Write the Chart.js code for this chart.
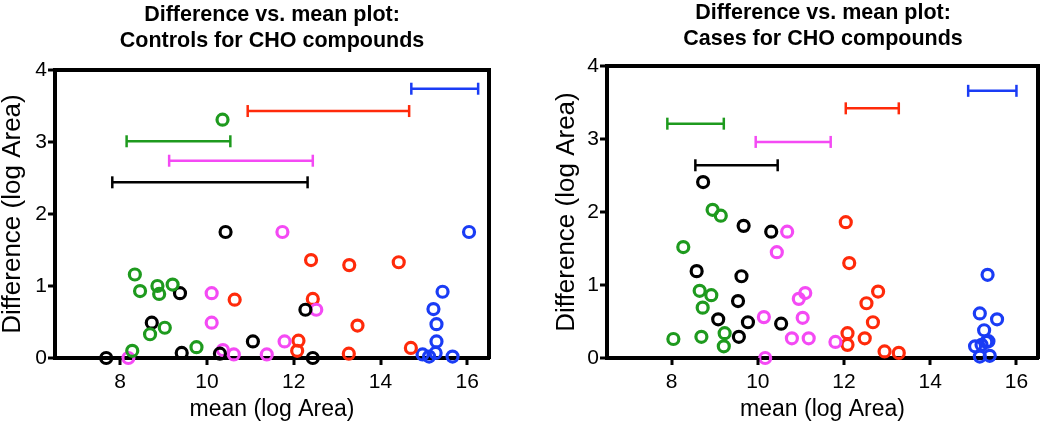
<!DOCTYPE html>
<html>
<head>
<meta charset="utf-8">
<script src="https://cdn.jsdelivr.net/npm/chart.js@4/dist/chart.umd.min.js"></script>
<style>
  html, body { margin: 0; padding: 0; background: #fff; overflow: hidden; width: 1050px; height: 423px; }
  .wrap { position: absolute; top: 0; height: 423px; }
  #wrapLeft { left: -10px; width: 564px; }
  #wrapRight { left: 540px; width: 566px; }
</style>
</head>
<body>
<div class="wrap" id="wrapLeft"><canvas id="controlsChart"></canvas></div>
<div class="wrap" id="wrapRight"><canvas id="casesChart"></canvas></div>
<script>
// ---- data ----
const xTickValues = [8, 10, 12, 14, 16];
const yTickValues = [0, 1, 2, 3, 4];

// Controls
const ctrlGreenX = [10.36, 8.34, 8.46, 8.86, 8.90, 9.21, 9.03, 8.69, 8.28, 9.76];
const ctrlGreenY = [3.31, 1.16, 0.93, 1.00, 0.89, 1.02, 0.42, 0.33, 0.10, 0.15];
const ctrlBlackX = [7.68, 8.73, 9.38, 9.42, 10.30, 10.43, 11.06, 12.27, 12.44];
const ctrlBlackY = [0.00, 0.49, 0.90, 0.07, 0.06, 1.75, 0.23, 0.67, 0.00];
const ctrlMagentaX = [8.19, 10.11, 10.11, 10.37, 10.62, 11.38, 11.74, 11.79, 12.52];
const ctrlMagentaY = [0.00, 0.90, 0.49, 0.11, 0.05, 0.05, 1.75, 0.23, 0.67];
const ctrlRedX = [10.64, 12.11, 12.08, 12.40, 12.44, 13.28, 13.27, 13.47, 14.42, 14.70];
const ctrlRedY = [0.81, 0.24, 0.10, 1.36, 0.82, 1.29, 0.06, 0.45, 1.33, 0.14];
const ctrlBlueX = [16.04, 15.43, 15.22, 15.29, 15.29, 14.97, 15.12, 15.27, 15.66];
const ctrlBlueY = [1.75, 0.92, 0.68, 0.47, 0.23, 0.05, 0.02, 0.07, 0.02];
// range bars: green, black, magenta, red, blue
const ctrlRangeLow = [8.15, 7.82, 9.13, 10.94, 14.71];
const ctrlRangeHigh = [10.54, 12.32, 12.44, 14.66, 16.25];
const ctrlRangeY = [3.01, 2.44, 2.74, 3.43, 3.74];

// Cases
const caseGreenX = [8.04, 8.27, 8.95, 9.14, 8.65, 8.92, 8.72, 8.69, 9.23, 9.21];
const caseGreenY = [0.26, 1.52, 2.03, 1.95, 0.92, 0.86, 0.69, 0.29, 0.34, 0.16];
const caseBlackX = [8.73, 9.67, 10.31, 8.58, 9.62, 9.54, 9.08, 9.77, 10.54, 9.56];
const caseBlackY = [2.41, 1.81, 1.73, 1.19, 1.12, 0.78, 0.53, 0.49, 0.47, 0.29];
const caseMagentaX = [10.17, 10.14, 10.68, 10.44, 10.95, 11.10, 11.04, 10.79, 11.18, 11.80];
const caseMagentaY = [0.00, 0.56, 1.73, 1.45, 0.81, 0.89, 0.55, 0.27, 0.27, 0.22];
const caseRedX = [12.04, 12.12, 12.79, 12.52, 12.67, 12.08, 12.08, 12.48, 12.94, 13.27];
const caseRedY = [1.86, 1.30, 0.91, 0.75, 0.49, 0.34, 0.18, 0.27, 0.09, 0.07];
const caseBlueX = [15.33, 15.15, 15.55, 15.25, 15.35, 15.04, 15.19, 15.15, 15.38, 15.30];
const caseBlueY = [1.14, 0.61, 0.53, 0.38, 0.23, 0.16, 0.18, 0.02, 0.03, 0.22];
const caseRangeLow = [7.90, 8.55, 9.95, 12.04, 14.88];
const caseRangeHigh = [9.21, 10.46, 11.69, 13.27, 16.00];
const caseRangeY = [3.21, 2.64, 2.96, 3.42, 3.66];

const groupColors = ["#1e9a1e", "#000000", "#f44af4", "#ff2a0a", "#1a3cf5"];
const fontFamily = "'Liberation Sans', Arial, Helvetica, sans-serif";

function toPoints(xs, ys) {
  return xs.map(function (x, i) { return { x: x, y: ys[i] }; });
}

function buildDatasets(groups, lows, highs, ys) {
  let sets = [];
  groups.forEach(function (g, i) {
    sets.push({
      data: toPoints(g[0], g[1]),
      showLine: false,
      pointStyle: "circle",
      pointRadius: 5.5,
      pointBorderWidth: 3.2,
      borderColor: groupColors[i],
      backgroundColor: "rgba(0,0,0,0)",
      clip: false,
    });
  });
  lows.forEach(function (lo, i) {
    sets.push({
      data: [{ x: lo, y: ys[i] }, { x: highs[i], y: ys[i] }],
      showLine: true,
      borderColor: groupColors[i],
      borderWidth: 2.5,
      pointStyle: "line",
      rotation: 90,
      pointRadius: 6,
      pointBorderWidth: 2.5,
      pointBorderColor: groupColors[i],
      clip: false,
    });
  });
  return sets;
}

// small outward tick marks on the left and bottom axes
const tickMarks = {
  id: "tickMarks",
  afterDraw: function (chart) {
    let c = chart.ctx;
    let a = chart.chartArea;
    let xs = chart.scales.x;
    let ys = chart.scales.y;
    c.save();
    c.strokeStyle = "#000";
    c.lineWidth = 3;
    xTickValues.forEach(function (v) {
      let px = Math.round(xs.getPixelForValue(v));
      c.beginPath();
      c.moveTo(px, a.bottom);
      c.lineTo(px, a.bottom + 7);
      c.stroke();
    });
    yTickValues.forEach(function (v) {
      let py = Math.round(ys.getPixelForValue(v));
      c.beginPath();
      c.moveTo(a.left, py);
      c.lineTo(a.left - 7, py);
      c.stroke();
    });
    c.restore();
  },
};

function makeChart(id, titleLines, datasets, cfg) {
  let ctx = document.getElementById(id).getContext("2d");
  return new Chart(ctx, {
    type: "scatter",
    data: { datasets: datasets },
    plugins: [tickMarks],
    options: {
      responsive: true,
      maintainAspectRatio: false,
      animation: false,
      events: [],
      layout: { padding: 0 },
      plugins: {
        legend: { display: false },
        tooltip: { enabled: false },
        title: {
          display: true,
          text: titleLines,
          color: "#000",
          font: { family: fontFamily, size: 21.5, weight: "bold", lineHeight: 26 / 21.5 },
          padding: { top: cfg.titleTop, bottom: cfg.titleBottom },
        },
      },
      scales: {
        x: {
          type: "linear",
          position: "bottom",
          min: 6.5,
          max: 16.5,
          afterBuildTicks: function (s) { s.ticks = xTickValues.map(function (v) { return { value: v }; }); },
          afterFit: function (s) { s.height = 65; },
          ticks: { color: "#000", font: { family: fontFamily, size: 21 }, padding: 6, maxRotation: 0 },
          grid: { display: false, tickLength: 6 },
          border: { display: true, width: 4, color: "#000" },
          title: { display: true, text: "mean (log Area)", color: "#000", font: { family: fontFamily, size: 23 }, padding: { top: 0, bottom: 0 } },
        },
        y: {
          type: "linear",
          position: "left",
          min: 0,
          max: 4,
          afterBuildTicks: function (s) { s.ticks = yTickValues.map(function (v) { return { value: v }; }); },
          afterFit: function (s) { s.width = cfg.yWidth; },
          ticks: { color: "#000", font: { family: fontFamily, size: 21 }, padding: 1 },
          grid: { display: false, tickLength: 7 },
          border: { display: true, width: 4, color: "#000" },
          title: { display: true, text: "Difference (log Area)", color: "#000", font: { family: fontFamily, size: 26 }, padding: { top: cfg.yTitlePad, bottom: 0 } },
        },
        xTop: {
          type: "linear",
          position: "top",
          display: true,
          afterFit: function (s) { s.height = 0; },
          ticks: { display: false },
          grid: { display: false, drawTicks: false },
          border: { display: true, width: 4, color: "#000" },
        },
        yRight: {
          type: "linear",
          position: "right",
          display: true,
          afterFit: function (s) { s.width = cfg.rightWidth; },
          ticks: { display: false },
          grid: { display: false, drawTicks: false },
          border: { display: true, width: 4, color: "#000" },
        },
      },
    },
  });
}

makeChart(
  "controlsChart",
  ["Difference vs. mean plot:", "Controls for CHO compounds"],
  buildDatasets(
    [[ctrlGreenX, ctrlGreenY], [ctrlBlackX, ctrlBlackY], [ctrlMagentaX, ctrlMagentaY], [ctrlRedX, ctrlRedY], [ctrlBlueX, ctrlBlueY]],
    ctrlRangeLow, ctrlRangeHigh, ctrlRangeY
  ),
  { titleTop: 2, titleBottom: 16, yWidth: 65, rightWidth: 65, yTitlePad: 7 }
);

makeChart(
  "casesChart",
  ["Difference vs. mean plot:", "Cases for CHO compounds"],
  buildDatasets(
    [[caseGreenX, caseGreenY], [caseBlackX, caseBlackY], [caseMagentaX, caseMagentaY], [caseRedX, caseRedY], [caseBlueX, caseBlueY]],
    caseRangeLow, caseRangeHigh, caseRangeY
  ),
  { titleTop: 0, titleBottom: 14, yWidth: 67, rightWidth: 68, yTitlePad: 11 }
);
</script>
</body>
</html>
